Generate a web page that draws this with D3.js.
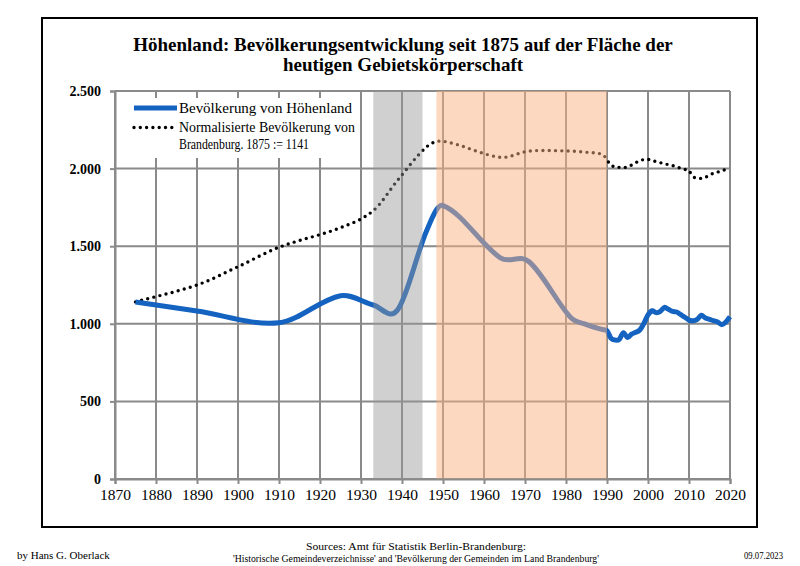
<!DOCTYPE html>
<html>
<head>
<meta charset="utf-8">
<script src="https://cdn.jsdelivr.net/npm/d3@7"></script>
<style>
  html, body { margin: 0; padding: 0; background: #fff; }
  svg { display: block; }
  text { font-family: "Liberation Serif", "DejaVu Serif", serif; }
</style>
</head>
<body>
<svg id="chart" width="800" height="566"></svg>
<script>
// ---------- DATA ----------
const titleLines = ["Höhenland: Bevölkerungsentwicklung seit 1875 auf der Fläche der", "heutigen Gebietskörperschaft"];
const legendLabels = ["Bevölkerung von Höhenland", "Normalisierte Bevölkerung von", "Brandenburg. 1875 := 1141"];
const footerLeft = "by Hans G. Oberlack";
const footerSources = ["Sources: Amt für Statistik Berlin-Brandenburg:", "'Historische Gemeindeverzeichnisse' and 'Bevölkerung der Gemeinden im Land Brandenburg'"];
const footerDate = "09.07.2023";

const xTicks = [1870,1880,1890,1900,1910,1920,1930,1940,1950,1960,1970,1980,1990,2000,2010,2020];
const yTicks = [0,500,1000,1500,2000,2500];
const yTickLabels = ["0","500","1.000","1.500","2.000","2.500"];

const nsBand = [1933, 1945];      // grey band
const gdrBand = [1948.4, 1990];   // orange band

const popYears = [1875,1890,1910,1925,1933,1939,1946,1950,1964,1971,1981,1985,1989,1990,
  1991,1992,1993,1994,1995,1996,1997,1998,1999,2000,2001,2002,2003,2004,2005,2006,2007,2008,2009,2010,
  2011,2012,2013,2014,2015,2016,2017,2018,2019,2020];
const popValues = [1141,1082,1007,1181,1121,1092,1600,1762,1425,1400,1045,995,962,955,
  906,895,900,943,911,934,945,960,1003,1057,1084,1072,1080,1106,1093,1080,1076,1059,1042,1024,
  1020,1029,1055,1037,1029,1020,1012,994,1012,1046];

const bbYears = [1875,1890,1900,1910,1925,1933,1939,1946,1950,1964,1971,1981,1985,1989,1990,
  1991,1992,1993,1994,1995,1996,1997,1998,1999,2000,2001,2002,2003,2004,2005,2006,2007,2008,2009,2010,
  2011,2012,2013,2014,2015,2016,2017,2018,2019,2020];
const bbValues = [1141,1250,1368,1493,1619,1729,1927,2140,2176,2073,2113,2113,2105,2090,2055,
  2023,2010,2008,2006,2012,2023,2038,2051,2058,2060,2051,2045,2038,2032,2025,2019,2010,2002,1995,1985,
  1948,1940,1937,1944,1959,1970,1978,1985,1995,2002];

// ---------- CURVE (spreadsheet-style smoothing: Catmull-Rom slopes in x) ----------
function SmoothX(context) { this._context = context; }
SmoothX.prototype = {
  areaStart() { this._line = 0; },
  areaEnd() { this._line = NaN; },
  lineStart() { this._pts = []; },
  point(x, y) { this._pts.push([+x, +y]); },
  lineEnd() {
    const p = this._pts, n = p.length, c = this._context;
    if (!n) return;
    c.moveTo(p[0][0], p[0][1]);
    if (n === 1) return;
    const m = p.map((d, i) => {
      const a = p[Math.max(0, i - 1)], b = p[Math.min(n - 1, i + 1)];
      return (b[1] - a[1]) / (b[0] - a[0]);
    });
    for (let i = 0; i < n - 1; i++) {
      const [x0, y0] = p[i], [x1, y1] = p[i + 1], dx = (x1 - x0) / 3;
      c.bezierCurveTo(x0 + dx, y0 + m[i] * dx, x1 - dx, y1 - m[i + 1] * dx, x1, y1);
    }
  }
};
const curveSmoothX = ctx => new SmoothX(ctx);

// ---------- DRAW ----------
const svg = d3.select("#chart");
const L = 115, R = 730, T = 91, B = 479;
const x = d3.scaleLinear().domain([1870, 2020]).range([L, R]);
const y = d3.scaleLinear().domain([0, 2500]).range([B, T]);

svg.append("rect").attr("width", 800).attr("height", 566).attr("fill", "#fff");
// outer frame
svg.append("rect").attr("x", 42).attr("y", 18).attr("width", 715).attr("height", 509)
  .attr("fill", "none").attr("stroke", "#000").attr("stroke-width", 2);

const gridColor = "#8a8a8a";
// gridlines
svg.append("g").selectAll("line").data(xTicks).join("line")
  .attr("x1", d => x(d)).attr("x2", d => x(d)).attr("y1", T).attr("y2", B)
  .attr("stroke", gridColor).attr("stroke-width", 2);
svg.append("g").selectAll("line").data(yTicks).join("line")
  .attr("x1", L).attr("x2", R).attr("y1", d => y(d)).attr("y2", d => y(d))
  .attr("stroke", gridColor).attr("stroke-width", 2);

// legend background
svg.append("rect").attr("x", 118).attr("y", 98).attr("width", 241).attr("height", 60).attr("fill", "#fff");

const popLine = d3.line().x((d, i) => x(popYears[i])).y(d => y(d)).curve(curveSmoothX);
const bbLine = d3.line().x((d, i) => x(bbYears[i])).y(d => y(d)).curve(curveSmoothX);

svg.append("path").attr("d", bbLine(bbValues)).attr("fill", "none")
  .attr("stroke", "#000").attr("stroke-width", 3.4).attr("stroke-linecap", "round")
  .attr("stroke-dasharray", "0 6.3");
svg.append("path").attr("d", popLine(popValues)).attr("fill", "none")
  .attr("stroke", "#1563c0").attr("stroke-width", 5).attr("stroke-linejoin", "round");

// bands overlay
svg.append("rect").attr("x", x(nsBand[0])).attr("width", x(nsBand[1]) - x(nsBand[0]))
  .attr("y", T).attr("height", B - T).attr("fill", "rgb(150,150,150)").attr("opacity", 0.45);
svg.append("rect").attr("x", x(gdrBand[0])).attr("width", x(gdrBand[1]) - x(gdrBand[0]))
  .attr("y", T).attr("height", B - T).attr("fill", "rgb(249,177,129)").attr("opacity", 0.5);

// axes
const xAxis = svg.append("g").attr("transform", `translate(0,${B})`)
  .call(d3.axisBottom(x).tickValues(xTicks).tickFormat(d3.format("d")).tickSize(5).tickPadding(5));
xAxis.select(".domain").attr("stroke", gridColor).attr("stroke-width", 2);
xAxis.selectAll(".tick line").attr("stroke", gridColor).attr("stroke-width", 2);
xAxis.selectAll("text").attr("font-size", 15.5).attr("fill", "#000")
  .style("font-family", "'Liberation Serif', serif");

const yAxis = svg.append("g").attr("transform", `translate(${L},0)`)
  .call(d3.axisLeft(y).tickValues(yTicks).tickFormat((d, i) => yTickLabels[i]).tickSize(5).tickPadding(9));
yAxis.select(".domain").attr("stroke", gridColor).attr("stroke-width", 2);
yAxis.selectAll(".tick line").attr("stroke", gridColor).attr("stroke-width", 2);
yAxis.selectAll("text").attr("font-size", 14).attr("font-weight", "bold").attr("fill", "#000")
  .style("font-family", "'Liberation Serif', serif");

// legend
svg.append("line").attr("x1", 134).attr("x2", 177).attr("y1", 108).attr("y2", 108)
  .attr("stroke", "#1563c0").attr("stroke-width", 5);
svg.append("line").attr("x1", 134).attr("x2", 174).attr("y1", 127.5).attr("y2", 127.5)
  .attr("stroke", "#000").attr("stroke-width", 3.4).attr("stroke-linecap", "round")
  .attr("stroke-dasharray", "0 6.3");
const legY = [112.5, 131.5, 148.5];
const legLen = [173, 176, 130];
svg.append("g").selectAll("text").data(legendLabels).join("text")
  .attr("x", 179).attr("y", (d, i) => legY[i]).attr("font-size", 14)
  .attr("textLength", (d, i) => legLen[i]).attr("lengthAdjust", "spacingAndGlyphs").text(d => d);

// title
svg.append("g").selectAll("text").data(titleLines).join("text")
  .attr("x", 403).attr("y", (d, i) => 51 + i * 20).attr("text-anchor", "middle")
  .attr("font-size", 19).attr("font-weight", "bold").text(d => d);

// footer
svg.append("text").attr("x", 17).attr("y", 559).attr("font-size", 11).text(footerLeft);
const srcLen = [220, 366];
svg.append("g").selectAll("text").data(footerSources).join("text")
  .attr("x", 416).attr("y", (d, i) => 550 + i * 11.5).attr("text-anchor", "middle")
  .attr("font-size", 10.5).attr("textLength", (d, i) => srcLen[i]).attr("lengthAdjust", "spacingAndGlyphs")
  .text(d => d);
svg.append("text").attr("x", 783).attr("y", 559).attr("text-anchor", "end").attr("font-size", 10.5)
  .attr("textLength", 39).attr("lengthAdjust", "spacingAndGlyphs").text(footerDate);
</script>
</body>
</html>
